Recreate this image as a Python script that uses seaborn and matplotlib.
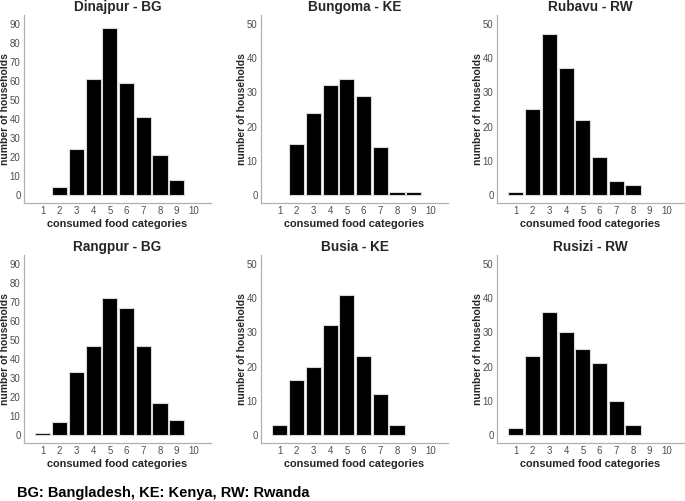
import matplotlib
matplotlib.use("Agg")
from matplotlib import pyplot as plt
import seaborn as sns
import pandas as pd

categories = [str(i) for i in range(1, 11)]

titles = ['Dinajpur - BG', 'Bungoma - KE', 'Rubavu - RW',
          'Rangpur - BG', 'Busia - KE', 'Rusizi - RW']

dinajpur = [0, 4, 24, 61, 88, 59, 41, 21, 8, 0]
bungoma = [0, 15, 24, 32, 34, 29, 14, 1, 1, 0]
rubavu = [1, 25, 47, 37, 22, 11, 4, 3, 0, 0]
rangpur = [1, 7, 33, 47, 72, 67, 47, 17, 8, 0]
busia = [3, 16, 20, 32, 41, 23, 12, 3, 0, 0]
rusizi = [2, 23, 36, 30, 25, 21, 10, 3, 0, 0]

counts = [dinajpur, bungoma, rubavu, rangpur, busia, rusizi]
y_max = [90, 50, 50, 90, 50, 50]

footnote = 'BG: Bangladesh, KE: Kenya, RW: Rwanda'

sns.set_theme(style='white')
plt.rcParams['font.family'] = ['Liberation Sans', 'DejaVu Sans']

fig = plt.figure(figsize=(6.85, 5.01), dpi=100)

W, H = 685, 501
lefts = [24, 261, 497]
tops = [15, 255]
ax_w, ax_h = 187, 188

for i, (title, vals, ymax) in enumerate(zip(titles, counts, y_max)):
    row, col = divmod(i, 3)
    l = lefts[col] / W
    b = 1 - (tops[row] + ax_h) / H
    ax = fig.add_axes([l, b, ax_w / W, ax_h / H])

    df = pd.DataFrame({'cat': categories, 'n': vals})
    sns.barplot(data=df, x='cat', y='n', order=categories, color='black',
                saturation=1, width=0.9, edgecolor='#d8d8d8', linewidth=0.8,
                ax=ax)
    # empty categories: no outline
    for p in ax.patches:
        if p.get_height() == 0:
            p.set_visible(False)

    pad = ymax * 0.047
    ax.set_ylim(-pad, ymax * 1.052)
    ax.set_xlim(-1.13, 10.05)
    ax.set_yticks(range(0, ymax + 1, 10))

    ax.set_title(title, fontsize=9.8, fontweight='bold', pad=3)
    ax.set_xlabel('consumed food categories', fontsize=7.9, fontweight='bold',
                  labelpad=1.5)
    ax.set_ylabel('number of households', fontsize=7.5, fontweight='bold')
    ax.yaxis.set_label_coords(-0.076, 0.5)
    ax.tick_params(axis='both', labelsize=6.9, colors='#b0b0b0', length=1.5,
                   width=0.5, pad=1.0)
    ax.tick_params(axis='both', labelcolor='#4d4d4d')

    sns.despine(ax=ax)
    for s in ['left', 'bottom']:
        ax.spines[s].set_color('#b0b0b0')
        ax.spines[s].set_linewidth(0.9)

fig.text(17 / W, 1 - 493 / H, footnote, fontsize=10.5, fontweight='bold',
         va='center', ha='left', color='black')

fig.savefig('out.png', dpi=100)
